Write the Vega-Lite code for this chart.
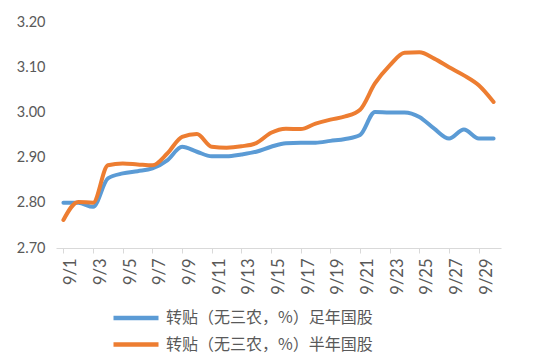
{
  "$schema": "https://vega.github.io/schema/vega-lite/v6.json",
  "autosize": {"type": "none"},
  "width": 445,
  "height": 226,
  "padding": {"left": 56, "top": 22, "right": 48, "bottom": 112},
  "background": "#ffffff",
  "config": {"view": {"stroke": null}, "font": "Lato"},
  "data": {"values": [
    {"d": "9/1", "s": "转贴（无三农，%）足年国股", "v": 2.80},
    {"d": "9/2", "s": "转贴（无三农，%）足年国股", "v": 2.80},
    {"d": "9/3", "s": "转贴（无三农，%）足年国股", "v": 2.791},
    {"d": "9/4", "s": "转贴（无三农，%）足年国股", "v": 2.854},
    {"d": "9/5", "s": "转贴（无三农，%）足年国股", "v": 2.865},
    {"d": "9/6", "s": "转贴（无三农，%）足年国股", "v": 2.870},
    {"d": "9/7", "s": "转贴（无三农，%）足年国股", "v": 2.876},
    {"d": "9/8", "s": "转贴（无三农，%）足年国股", "v": 2.894},
    {"d": "9/9", "s": "转贴（无三农，%）足年国股", "v": 2.924},
    {"d": "9/10", "s": "转贴（无三农，%）足年国股", "v": 2.913},
    {"d": "9/11", "s": "转贴（无三农，%）足年国股", "v": 2.903},
    {"d": "9/12", "s": "转贴（无三农，%）足年国股", "v": 2.903},
    {"d": "9/13", "s": "转贴（无三农，%）足年国股", "v": 2.907},
    {"d": "9/14", "s": "转贴（无三农，%）足年国股", "v": 2.913},
    {"d": "9/15", "s": "转贴（无三农，%）足年国股", "v": 2.924},
    {"d": "9/16", "s": "转贴（无三农，%）足年国股", "v": 2.932},
    {"d": "9/17", "s": "转贴（无三农，%）足年国股", "v": 2.933},
    {"d": "9/18", "s": "转贴（无三农，%）足年国股", "v": 2.933},
    {"d": "9/19", "s": "转贴（无三农，%）足年国股", "v": 2.937},
    {"d": "9/20", "s": "转贴（无三农，%）足年国股", "v": 2.941},
    {"d": "9/21", "s": "转贴（无三农，%）足年国股", "v": 2.950},
    {"d": "9/22", "s": "转贴（无三农，%）足年国股", "v": 3.001},
    {"d": "9/23", "s": "转贴（无三农，%）足年国股", "v": 3.000},
    {"d": "9/24", "s": "转贴（无三农，%）足年国股", "v": 3.000},
    {"d": "9/25", "s": "转贴（无三农，%）足年国股", "v": 2.990},
    {"d": "9/26", "s": "转贴（无三农，%）足年国股", "v": 2.964},
    {"d": "9/27", "s": "转贴（无三农，%）足年国股", "v": 2.942},
    {"d": "9/28", "s": "转贴（无三农，%）足年国股", "v": 2.962},
    {"d": "9/29", "s": "转贴（无三农，%）足年国股", "v": 2.942},
    {"d": "9/30", "s": "转贴（无三农，%）足年国股", "v": 2.942},
    {"d": "9/1", "s": "转贴（无三农，%）半年国股", "v": 2.762},
    {"d": "9/2", "s": "转贴（无三农，%）半年国股", "v": 2.802},
    {"d": "9/3", "s": "转贴（无三农，%）半年国股", "v": 2.800},
    {"d": "9/4", "s": "转贴（无三农，%）半年国股", "v": 2.883},
    {"d": "9/5", "s": "转贴（无三农，%）半年国股", "v": 2.887},
    {"d": "9/6", "s": "转贴（无三农，%）半年国股", "v": 2.885},
    {"d": "9/7", "s": "转贴（无三农，%）半年国股", "v": 2.883},
    {"d": "9/8", "s": "转贴（无三农，%）半年国股", "v": 2.909},
    {"d": "9/9", "s": "转贴（无三农，%）半年国股", "v": 2.946},
    {"d": "9/10", "s": "转贴（无三农，%）半年国股", "v": 2.952},
    {"d": "9/11", "s": "转贴（无三农，%）半年国股", "v": 2.924},
    {"d": "9/12", "s": "转贴（无三农，%）半年国股", "v": 2.922},
    {"d": "9/13", "s": "转贴（无三农，%）半年国股", "v": 2.925},
    {"d": "9/14", "s": "转贴（无三农，%）半年国股", "v": 2.932},
    {"d": "9/15", "s": "转贴（无三农，%）半年国股", "v": 2.955},
    {"d": "9/16", "s": "转贴（无三农，%）半年国股", "v": 2.964},
    {"d": "9/17", "s": "转贴（无三农，%）半年国股", "v": 2.963},
    {"d": "9/18", "s": "转贴（无三农，%）半年国股", "v": 2.975},
    {"d": "9/19", "s": "转贴（无三农，%）半年国股", "v": 2.984},
    {"d": "9/20", "s": "转贴（无三农，%）半年国股", "v": 2.991},
    {"d": "9/21", "s": "转贴（无三农，%）半年国股", "v": 3.006},
    {"d": "9/22", "s": "转贴（无三农，%）半年国股", "v": 3.064},
    {"d": "9/23", "s": "转贴（无三农，%）半年国股", "v": 3.104},
    {"d": "9/24", "s": "转贴（无三农，%）半年国股", "v": 3.132},
    {"d": "9/25", "s": "转贴（无三农，%）半年国股", "v": 3.133},
    {"d": "9/26", "s": "转贴（无三农，%）半年国股", "v": 3.119},
    {"d": "9/27", "s": "转贴（无三农，%）半年国股", "v": 3.100},
    {"d": "9/28", "s": "转贴（无三农，%）半年国股", "v": 3.082},
    {"d": "9/29", "s": "转贴（无三农，%）半年国股", "v": 3.060},
    {"d": "9/30", "s": "转贴（无三农，%）半年国股", "v": 3.023}
  ]},
  "mark": {"type": "line", "interpolate": "monotone", "strokeWidth": 4, "strokeCap": "round", "strokeJoin": "round"},
  "encoding": {
    "x": {
      "field": "d", "type": "ordinal",
      "scale": {"domain": ["9/1","9/2","9/3","9/4","9/5","9/6","9/7","9/8","9/9","9/10","9/11","9/12","9/13","9/14","9/15","9/16","9/17","9/18","9/19","9/20","9/21","9/22","9/23","9/24","9/25","9/26","9/27","9/28","9/29","9/30"], "paddingInner": 0, "paddingOuter": 0},
      "axis": {
        "title": null,
        "values": ["9/1","9/3","9/5","9/7","9/9","9/11","9/13","9/15","9/17","9/19","9/21","9/23","9/25","9/27","9/29"],
        "bandPosition": 0,
        "labelOffset": 7.4,
        "labelAngle": -90,
        "labelFontSize": 16.5,
        "labelColor": "#595959",
        "labelPadding": 5,
        "tickSize": 5,
        "tickColor": "#D9D9D9",
        "tickWidth": 1,
        "domainColor": "#D9D9D9",
        "domainWidth": 1,
        "grid": false
      }
    },
    "y": {
      "field": "v", "type": "quantitative",
      "scale": {"domain": [2.7, 3.2], "zero": false, "nice": false},
      "axis": {
        "title": null,
        "values": [2.7, 2.8, 2.9, 3.0, 3.1, 3.2],
        "format": ".2f",
        "labelFontSize": 14.5,
        "labelColor": "#595959",
        "labelPadding": 11,
        "ticks": false,
        "domain": false,
        "grid": false
      }
    },
    "color": {
      "field": "s", "type": "nominal",
      "scale": {"domain": ["转贴（无三农，%）足年国股", "转贴（无三农，%）半年国股"], "range": ["#5B9BD5", "#ED7D31"]},
      "legend": {
        "title": null,
        "orient": "none",
        "legendX": 70,
        "legendY": 286,
        "direction": "vertical",
        "symbolType": "M-3,0H3",
        "symbolSize": 225,
        "symbolStrokeWidth": 4.5,
        "labelFont": "Noto Sans CJK SC",
        "labelFontSize": 16,
        "labelColor": "#595959",
        "labelOffset": 20,
        "labelLimit": 400,
        "rowPadding": 7.5
      }
    }
  }
}
